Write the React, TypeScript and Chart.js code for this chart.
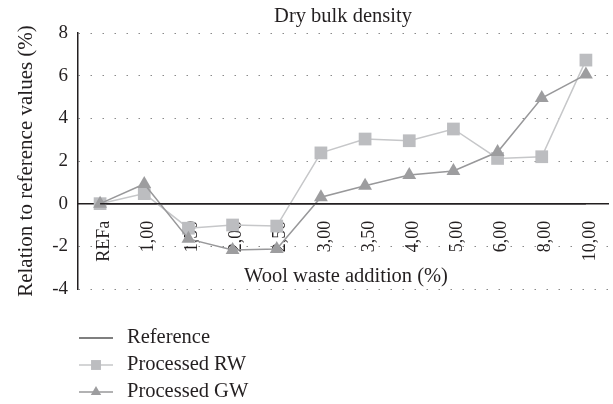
import React, { useEffect, useRef } from "react";
import { Chart, registerables } from "chart.js";
import { drawPoint } from "chart.js/helpers";

Chart.register(...registerables);

const categories = ["REFa", "1,00", "1,50", "2,00", "2,50", "3,00", "3,50", "4,00", "5,00", "6,00", "8,00", "10,00"];
const referenceValues = [0, 0, 0, 0, 0, 0, 0, 0, 0, 0, 0, 0];
const processedRW = [0, 0.47, -1.15, -1.0, -1.05, 2.38, 3.03, 2.95, 3.5, 2.12, 2.2, 6.73];
const processedGW = [0, 0.92, -1.65, -2.17, -2.12, 0.3, 0.84, 1.34, 1.53, 2.42, 4.95, 6.05];
const yTicks = [-4, -2, 0, 2, 4, 6, 8];

const TITLE = "Dry bulk density";
const Y_TITLE = "Relation to reference values (%)";
const X_TITLE = "Wool waste addition (%)";
const FONT = "'Liberation Serif', 'Times New Roman', serif";
const TEXT = "#231f20";

const textPlugin = {
  id: "texts",
  afterDraw(chart: any) {
    const { ctx, chartArea, scales } = chart;
    const cx = (chartArea.left + chartArea.right) / 2;
    ctx.save();
    ctx.fillStyle = TEXT;
    ctx.textAlign = "center";
    ctx.font = `20.5px ${FONT}`;
    ctx.textBaseline = "alphabetic";
    ctx.fillText(TITLE, cx, chartArea.top - 11);
    ctx.textBaseline = "middle";
    ctx.fillText(X_TITLE, cx + 3, scales.y.getPixelForValue(-3.4));
    ctx.restore();
  },
};

const legendPlugin = {
  id: "bottomLegend",
  afterDraw(chart: any) {
    const { ctx, chartArea } = chart;
    const ds = chart.data.datasets;
    const order = [0, 1, 2];
    const x0 = chartArea.left + 1;
    const lineW = 34;
    ctx.save();
    order.forEach((idx, i) => {
      const d = ds[idx];
      const y = chartArea.bottom + 49 + i * 27;
      ctx.strokeStyle = d.legendLineColor || d.borderColor;
      ctx.lineWidth = 1.5;
      ctx.beginPath();
      ctx.moveTo(x0, y);
      ctx.lineTo(x0 + lineW, y);
      ctx.stroke();
      if (d.pointStyle && d.legendPointRadius) {
        ctx.fillStyle = d.pointBackgroundColor;
        ctx.strokeStyle = d.pointBorderColor;
        ctx.lineWidth = 0;
        drawPoint(ctx, { pointStyle: d.pointStyle, radius: d.legendPointRadius, rotation: 0, borderWidth: 0 }, x0 + lineW / 2, y);
      }
      ctx.font = `20.5px ${FONT}`;
      ctx.fillStyle = TEXT;
      ctx.textAlign = "left";
      ctx.textBaseline = "middle";
      ctx.fillText(d.label, x0 + lineW + 14, y);
    });
    ctx.restore();
  },
};

export default function App() {
  const ref = useRef<HTMLCanvasElement | null>(null);

  useEffect(() => {
    document.body.style.margin = "0";
    const canvas = ref.current;
    if (!canvas) return;
    const chart = new Chart(canvas, {
      type: "line",
      data: {
        labels: categories,
        datasets: [
          {
            label: "Reference",
            data: referenceValues,
            borderColor: "#231f20",
            legendLineColor: "#555555",
            borderWidth: 1.5,
            pointRadius: 0,
            order: 0,
          } as any,
          {
            label: "Processed RW",
            data: processedRW,
            borderColor: "#c6c7c9",
            borderWidth: 1.5,
            pointStyle: "rect",
            pointRadius: 9,
            pointBackgroundColor: "#bcbdc0",
            pointBorderColor: "#bcbdc0",
            pointBorderWidth: 0,
            legendPointRadius: 7,
            order: 2,
          } as any,
          {
            label: "Processed GW",
            data: processedGW,
            borderColor: "#98989a",
            borderWidth: 1.5,
            pointStyle: "triangle",
            pointRadius: 8,
            pointBackgroundColor: "#9d9d9f",
            pointBorderColor: "#9d9d9f",
            pointBorderWidth: 0,
            legendPointRadius: 6,
            order: 1,
          } as any,
        ],
      },
      options: {
        responsive: false,
        animation: false,
        layout: { autoPadding: false, padding: { left: 0, right: 5, top: 33, bottom: 115 } },
        plugins: {
          legend: { display: false },
          tooltip: { enabled: false },
          title: { display: false },
        },
        scales: {
          x: {
            type: "category",
            position: { y: 0 } as any,
            offset: true,
            grid: { display: false },
            border: { display: true, color: "#231f20", width: 1.5 },
            ticks: {
              minRotation: 90,
              maxRotation: 90,
              autoSkip: false,
              padding: 9,
              labelOffset: 4,
              color: TEXT,
              font: { family: FONT, size: 18 },
            },
            afterFit: (s: any) => {
              s.height = 0;
              s.paddingRight = 0;
              s.paddingLeft = 0;
            },
          },
          y: {
            min: -4,
            max: 8,
            afterBuildTicks: (s: any) => {
              s.ticks = yTicks.map((v) => ({ value: v }));
            },
            grid: {
              color: "#8a8a8a",
              lineWidth: 1,
              drawTicks: false,
            },
            border: { display: true, color: "#231f20", width: 1.5, dash: [1.5, 10.5] },
            ticks: {
              padding: 10,
              color: TEXT,
              font: { family: FONT, size: 19 },
            },
            title: {
              display: true,
              text: Y_TITLE,
              color: TEXT,
              font: { family: FONT, size: 21 },
              padding: { top: 14, bottom: 0 },
            },
            afterFit: (s: any) => {
              s.width = 78;
              s.paddingTop = 0;
              s.paddingBottom = 0;
            },
          },
        },
      },
      plugins: [textPlugin, legendPlugin],
    });
    return () => chart.destroy();
  }, []);

  return (
    <div style={{ width: 613, height: 404 }}>
      <canvas ref={ref} width={613} height={404} />
    </div>
  );
}
